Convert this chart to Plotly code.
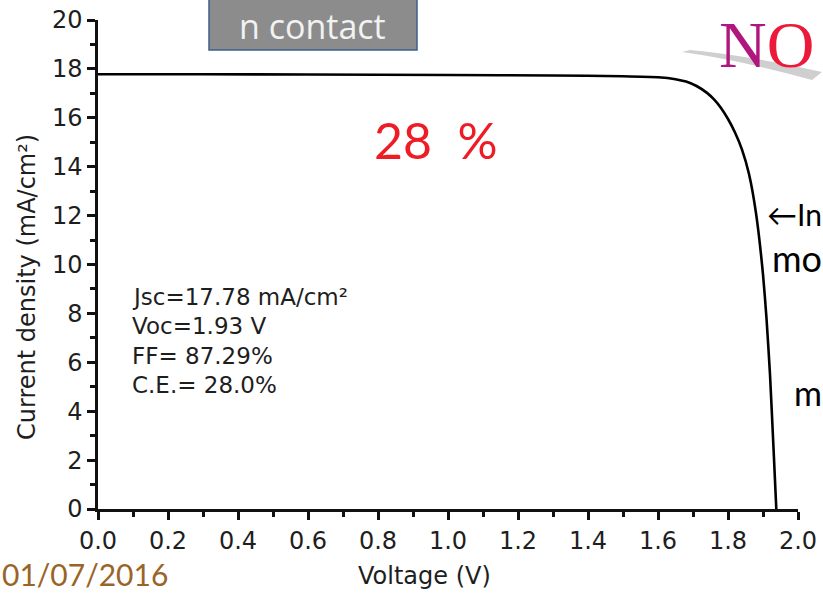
import plotly.graph_objects as go

# J-V curve data
voltage = [0.0, 0.3, 0.6, 1.0, 1.3, 1.5, 1.60, 1.65, 1.68, 1.71, 1.74, 1.76, 1.78, 1.80,
           1.82, 1.84, 1.86, 1.88, 1.90, 1.91, 1.92, 1.93, 1.938]
current = [17.78, 17.78, 17.77, 17.75, 17.73, 17.70, 17.66, 17.58, 17.48, 17.30, 17.02,
           16.75, 16.40, 15.95, 15.40, 14.70, 13.70, 12.10, 9.60, 7.80, 5.50, 2.50, 0.0]

x_ticks = [0.0, 0.2, 0.4, 0.6, 0.8, 1.0, 1.2, 1.4, 1.6, 1.8, 2.0]
x_tick_labels = ["0.0", "0.2", "0.4", "0.6", "0.8", "1.0", "1.2", "1.4", "1.6", "1.8", "2.0"]
y_ticks = [0, 2, 4, 6, 8, 10, 12, 14, 16, 18, 20]
y_tick_labels = [str(v) for v in y_ticks]

stats_lines = ["Jsc=17.78 mA/cm²", "Voc=1.93 V", "FF= 87.29%", "C.E.= 28.0%"]

W, H = 823, 593
L, R, T, B = 98, 25, 20, 84
PW, PH = W - L - R, H - T - B


def px(xp):
    return (xp - L) / PW


def py(yp):
    return (H - B - yp) / PH


fig = go.Figure()
fig.add_trace(go.Scatter(x=voltage, y=current, mode="lines",
                         line=dict(color="black", width=2.6, shape="spline", smoothing=0.5),
                         hoverinfo="skip", showlegend=False))

sans = "DejaVu Sans, Liberation Sans, Arial, sans-serif"
axis_font = dict(family=sans, size=24, color="#1e1e1e")

fig.update_layout(
    width=W, height=H,
    margin=dict(l=L, r=R, t=T, b=B, pad=0, autoexpand=False),
    paper_bgcolor="white", plot_bgcolor="white",
    showlegend=False,
    xaxis=dict(range=[0, 2.0], tickvals=x_ticks, ticktext=x_tick_labels, automargin=False,
               showgrid=False, zeroline=False, showline=True, linecolor="#111",
               linewidth=2.5, ticks="outside", ticklen=8, tickwidth=2.5, tickcolor="#111",
               tickfont=axis_font,
               minor=dict(dtick=0.1, tick0=0, ticks="outside", ticklen=5, tickwidth=2.5,
                          tickcolor="#111", showgrid=False)),
    yaxis=dict(range=[0, 20], tickvals=y_ticks, ticktext=y_tick_labels, automargin=False,
               showgrid=False, zeroline=False, showline=True, linecolor="#111",
               linewidth=2.5, ticks="outside", ticklen=8, tickwidth=2.5, tickcolor="#111",
               tickfont=axis_font,
               minor=dict(dtick=1, tick0=0, ticks="outside", ticklen=5, tickwidth=2.5,
                          tickcolor="#111", showgrid=False)),
)

annotations = []
# axis titles
annotations.append(dict(x=px(424), y=py(576), xref="paper", yref="paper",
                        text="Voltage (V)", showarrow=False, borderpad=0,
                        font=dict(family=sans, size=24, color="#1e1e1e"),
                        xanchor="center", yanchor="middle"))
annotations.append(dict(x=px(27), y=py(287), xref="paper", yref="paper",
                        text="Current density (mA/cm²)", showarrow=False, textangle=-90,
                        font=dict(family=sans, size=24, color="#1e1e1e"),
                        xanchor="center", yanchor="middle"))
# stats block
for i, s in enumerate(stats_lines):
    annotations.append(dict(x=px(130), y=py(297 + i * 29.3), xref="paper", yref="paper",
                            text=s, showarrow=False, xanchor="left", yanchor="middle",
                            font=dict(family=sans, size=23, color="#1e1e1e")))
# red efficiency label
annotations.append(dict(x=px(436), y=py(140), xref="paper", yref="paper",
                        text="28  %", showarrow=False, xanchor="center", yanchor="middle",
                        font=dict(family="Lato, Noto Sans, sans-serif", size=50, color="#ee1c25")))
# n contact label
annotations.append(dict(x=px(312), y=py(26), xref="paper", yref="paper",
                        text="n contact", showarrow=False, xanchor="center", yanchor="middle",
                        font=dict(family="Open Sans, Noto Sans, sans-serif", size=34, color="#f2f2f2")))
# NO logo
annotations.append(dict(x=px(718), y=py(44), xref="paper", yref="paper",
                        text="<span style='color:#b0177e'>N</span><span style='color:#ec1a3a'>O</span>",
                        showarrow=False, xanchor="left", yanchor="middle", borderpad=0,
                        font=dict(family="Liberation Serif, DejaVu Serif, serif", size=66)))
# right-side partial texts
annotations.append(dict(x=px(823), y=py(214), xref="paper", yref="paper",
                        text="←In", showarrow=False, xanchor="right", yanchor="middle", borderpad=0,
                        font=dict(family="Lato, Noto Sans, sans-serif", size=30, color="black")))
annotations.append(dict(x=px(823), y=py(258), xref="paper", yref="paper",
                        text="mo", showarrow=False, xanchor="right", yanchor="middle", borderpad=0,
                        font=dict(family="Lato, Noto Sans, sans-serif", size=36, color="black")))
annotations.append(dict(x=px(823), y=py(392), xref="paper", yref="paper",
                        text="m", showarrow=False, xanchor="right", yanchor="middle", borderpad=0,
                        font=dict(family="Lato, Noto Sans, sans-serif", size=34, color="black")))
# date
annotations.append(dict(x=px(1), y=py(574), xref="paper", yref="paper",
                        text="01/07/2016", showarrow=False, xanchor="left", yanchor="middle", borderpad=0,
                        font=dict(family="Lato, Noto Sans, sans-serif", size=30, color="#9a6428")))
fig.update_layout(annotations=annotations)

shapes = [
    # shadow of the logo
    dict(type="path", xref="paper", yref="paper",
         path=f"M {px(682)},{py(52)} Q {px(740)},{py(60)} {px(812)},{py(80)} L {px(822)},{py(72)} Q {px(745)},{py(55)} {px(690)},{py(50)} Z",
         fillcolor="#cfcfcf", line=dict(width=0), layer="below"),
    # n contact box
    dict(type="rect", xref="paper", yref="paper",
         x0=px(209), x1=px(417), y0=py(50), y1=py(-5),
         fillcolor="#8c8c8c", line=dict(color="#3d5f8c", width=1.5), layer="above"),
]
fig.update_layout(shapes=shapes)

fig.write_html("out.html", config={"displayModeBar": False},
               post_script="document.body.style.margin='0';")
